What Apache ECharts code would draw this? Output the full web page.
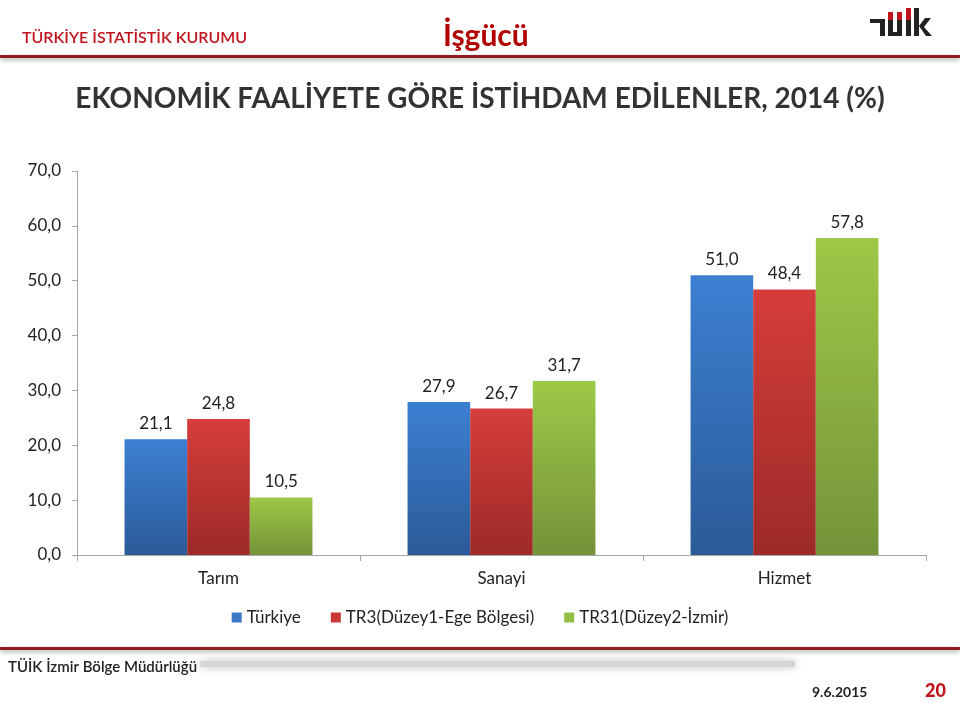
<!DOCTYPE html>
<html>
<head>
<meta charset="utf-8">
<script src="https://cdn.jsdelivr.net/npm/echarts@6/dist/echarts.min.js"></script>
<style>
html,body{margin:0;padding:0;background:#fff;}
#chart{width:960px;height:702px;}
</style>
</head>
<body>
<div id="chart"></div>
<script>
var categories = ['Tarım', 'Sanayi', 'Hizmet'];
var seriesNames = ['Türkiye', 'TR3(Düzey1-Ege Bölgesi)', 'TR31(Düzey2-İzmir)'];
var turkiye = [21.1, 27.9, 51.0];
var tr3 = [24.8, 26.7, 48.4];
var tr31 = [10.5, 31.7, 57.8];
var yTicks = [0, 10, 20, 30, 40, 50, 60, 70];

var FONT = 'Lato, "Open Sans", sans-serif';
function comma(v){ return Number(v).toFixed(1).replace('.', ','); }
function grad(top, bottom){
  return new echarts.graphic.LinearGradient(0,0,0,1,[{offset:0,color:top},{offset:1,color:bottom}]);
}
var colorsTop = ['#3c80d2', '#d53d3b', '#9ec847'];
var colorsBot = ['#2b5a98', '#9d2a28', '#74933a'];
var legendColors = ['#3a78c6', '#c93836', '#92bd45'];
var data = [turkiye, tr3, tr31];

var chart = echarts.init(document.getElementById('chart'));
var series = data.map(function(d, i){
  return {
    name: seriesNames[i],
    type: 'bar',
    data: d,
    barGap: '0%',
    barCategoryGap: '33.6%',
    itemStyle: { color: grad(colorsTop[i], colorsBot[i]) },
    label: {
      show: true, position: 'top', distance: 7,
      fontFamily: FONT, fontSize: 17, color: '#222',
      formatter: function(p){ return comma(p.value); }
    }
  };
});

var logo = [
  {type:'rect', shape:{x:870,y:19,width:15,height:4}, style:{fill:'#222'}},
  {type:'rect', shape:{x:880,y:19,width:5,height:17}, style:{fill:'#222'}},
  {type:'rect', shape:{x:888,y:20,width:5,height:16}, style:{fill:'#222'}},
  {type:'rect', shape:{x:888,y:12,width:5,height:8}, style:{fill:'#c0141c'}},
  {type:'rect', shape:{x:897,y:20,width:5,height:16}, style:{fill:'#222'}},
  {type:'rect', shape:{x:897,y:12,width:5,height:8}, style:{fill:'#c0141c'}},
  {type:'rect', shape:{x:888,y:32,width:14,height:4}, style:{fill:'#222'}},
  {type:'rect', shape:{x:906,y:20,width:5,height:16}, style:{fill:'#222'}},
  {type:'rect', shape:{x:906,y:8,width:5,height:12}, style:{fill:'#c0141c'}},
  {type:'rect', shape:{x:914,y:8,width:5,height:28}, style:{fill:'#222'}},
  {type:'polygon', shape:{points:[[919,26],[925,18],[931,18],[924,27],[932,36],[926,36]]}, style:{fill:'#222'}}
];

var graphics = [
  {type:'text', left:22, top:30, style:{text:'TÜRKİYE İSTATİSTİK KURUMU', fill:'#c0141c', font:'600 16px ' + FONT}},
  {type:'text', left:443, top:21, style:{text:'İşgücü', fill:'#b00000', font:'bold 30px ' + FONT}},
  {type:'rect', shape:{x:0,y:55,width:960,height:3}, style:{fill:'#8f1d22', shadowBlur:4, shadowColor:'rgba(0,0,0,0.35)', shadowOffsetY:2}},
  {type:'text', left:'center', top:85, style:{text:'EKONOMİK FAALİYETE GÖRE İSTİHDAM EDİLENLER, 2014 (%)', fill:'#333', font:'bold 28px ' + FONT}},
  {type:'rect', shape:{x:0,y:647,width:960,height:3}, style:{fill:'#8f1d22', shadowBlur:4, shadowColor:'rgba(0,0,0,0.35)', shadowOffsetY:2}},
  {type:'rect', shape:{x:200,y:661,width:595,height:6}, style:{fill:'#d6d6d6', shadowBlur:8, shadowColor:'rgba(0,0,0,0.25)'}},
  {type:'text', left:8, top:660, style:{text:'TÜİK İzmir Bölge Müdürlüğü', fill:'#222', font:'600 15px ' + FONT}},
  {type:'text', left:812, top:685, style:{text:'9.6.2015', fill:'#222', font:'bold 14px ' + FONT}},
  {type:'text', left:925, top:682, style:{text:'20', fill:'#c0141c', font:'900 18px ' + FONT}}
].concat(logo);

chart.setOption({
  animation: false,
  backgroundColor: '#fff',
  grid: { left: 77, right: 34, top: 171, bottom: 147, containLabel: false },
  legend: {
    top: 604, left: 'center',
    itemWidth: 10, itemHeight: 10, itemGap: 30,
    icon: 'rect',
    textStyle: { fontFamily: FONT, fontSize: 17, color: '#222' },
    data: seriesNames.map(function(n, i){ return { name: n, itemStyle: { color: legendColors[i] } }; })
  },
  xAxis: {
    type: 'category',
    data: categories,
    axisLine: { lineStyle: { color: '#a6a6a6', width: 1 } },
    axisTick: { show: true, length: 6, interval: 0, lineStyle: { color: '#a6a6a6' } },
    axisLabel: { fontFamily: FONT, fontSize: 17, color: '#222', margin: 15 }
  },
  yAxis: {
    type: 'value',
    min: yTicks[0], max: yTicks[yTicks.length - 1], interval: 10,
    axisLine: { show: true, lineStyle: { color: '#a6a6a6', width: 1 } },
    axisTick: { show: true, length: 5, lineStyle: { color: '#a6a6a6' } },
    splitLine: { show: false },
    axisLabel: { fontFamily: FONT, fontSize: 17, color: '#222', margin: 16, formatter: function(v){ return comma(v); } }
  },
  series: series,
  graphic: graphics
});
</script>
</body>
</html>
